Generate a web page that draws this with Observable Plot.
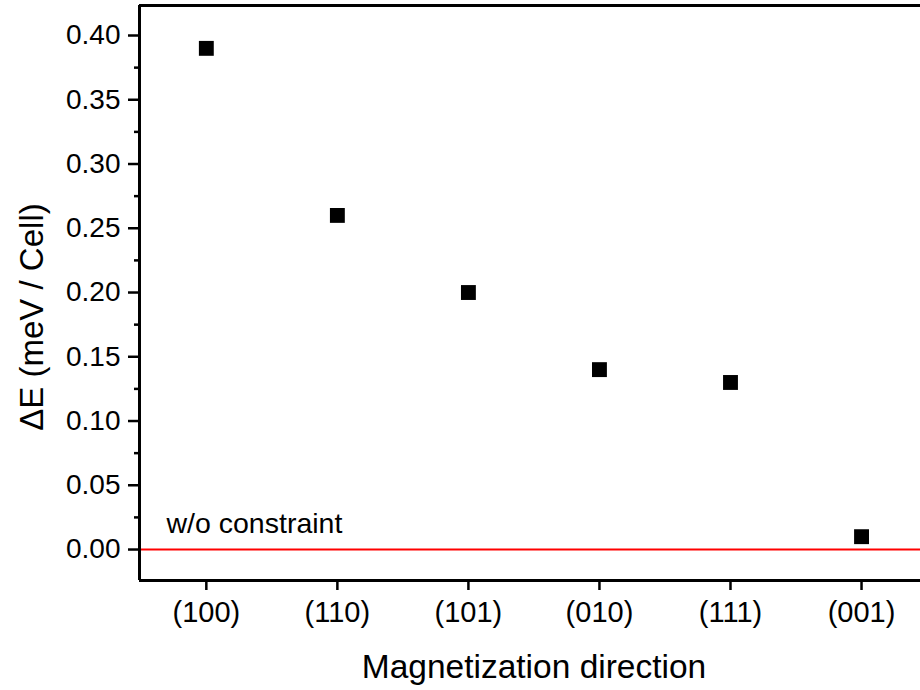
<!DOCTYPE html>
<html>
<head>
<meta charset="utf-8">
<script src="https://cdn.jsdelivr.net/npm/d3@7"></script>
<script src="https://cdn.jsdelivr.net/npm/@observablehq/plot@0.6"></script>
<style>
  html, body { margin: 0; padding: 0; background: #fff; }
  #chart { width: 920px; height: 690px; }
</style>
</head>
<body>
<div id="chart"></div>
<script>
// Magnetization directions along the x axis, in plotting order
const directions = ["(100)", "(110)", "(101)", "(010)", "(111)", "(001)"];
// Energy difference relative to the unconstrained state (meV / cell)
const deltaE = [0.39, 0.26, 0.20, 0.14, 0.13, 0.01];
// Y axis ticks
const yMajorTicks = [0, 0.05, 0.10, 0.15, 0.20, 0.25, 0.30, 0.35, 0.40];
const yMinorTicks = [0.025, 0.075, 0.125, 0.175, 0.225, 0.275, 0.325, 0.375];
// Reference line and its label
const referenceLevel = [0];
const referenceLabel = ["w/o constraint"];
const xTitle = ["Magnetization direction"];
const yTitle = ["\u0394E (meV / Cell)"];

const xDomain = [0.49, 6.45];
const yDomain = [-0.0241, 0.42335];

const points = directions.map((d, i) => ({pos: i + 1, direction: d, value: deltaE[i]}));
const positions = points.map(d => d.pos);

const font = "'Liberation Sans', Arial, Helvetica, sans-serif";

const chart = Plot.plot({
  width: 920,
  height: 690,
  marginLeft: 139,
  marginRight: 0,
  marginTop: 5,
  marginBottom: 110,
  style: {fontFamily: font, color: "#000", background: "#fff", overflow: "visible"},
  x: {type: "linear", domain: xDomain},
  y: {type: "linear", domain: yDomain},
  marks: [
    // zero-energy reference (no constraint)
    Plot.ruleY(referenceLevel, {stroke: "#ff0000", strokeWidth: 2}),
    Plot.text(referenceLabel, {
      frameAnchor: "bottom-left", textAnchor: "start", lineAnchor: "bottom",
      dx: 27, dy: -48, fontSize: 28.5, fill: "#000"
    }),
    // axis lines
    Plot.ruleX([xDomain[0]], {stroke: "#000", strokeWidth: 3}),
    Plot.ruleY([yDomain[0]], {stroke: "#000", strokeWidth: 3}),
    Plot.ruleY([yDomain[1]], {stroke: "#000", strokeWidth: 3}),
    // y axis: major and minor ticks
    Plot.axisY({
      ticks: yMajorTicks, tickSize: 11, tickPadding: 8,
      tickFormat: d3.format(".2f"), fontSize: 28, strokeWidth: 2.5, label: null
    }),
    Plot.axisY({
      ticks: yMinorTicks, tickSize: 5, tickFormat: () => "", strokeWidth: 2.5, label: null
    }),
    // x axis
    Plot.axisX({
      ticks: positions, tickSize: 10, tickPadding: 11,
      tickFormat: p => directions[p - 1], fontSize: 29, strokeWidth: 2.5, label: null
    }),
    // data points
    Plot.dot(points, {x: "pos", y: "value", symbol: "square", r: 8.4, fill: "#000", stroke: "none"}),
    // axis titles
    Plot.text(xTitle, {
      frameAnchor: "bottom", lineAnchor: "bottom", dx: 4, dy: 97, fontSize: 33.5, fill: "#000"
    }),
    Plot.text(yTitle, {
      frameAnchor: "left", textAnchor: "middle", rotate: -90, lineAnchor: "middle",
      dx: -107, dy: 24, fontSize: 33, fill: "#000"
    })
  ]
});

document.getElementById("chart").appendChild(chart);
</script>
</body>
</html>
